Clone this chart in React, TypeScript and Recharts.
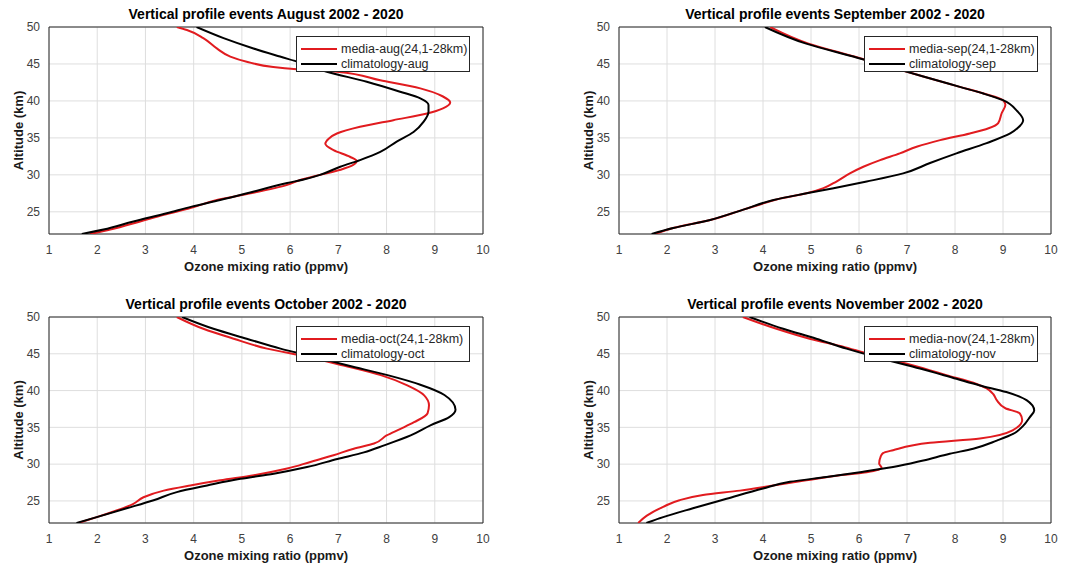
import React from 'react'
import {
  ScatterChart,
  Scatter,
  XAxis,
  YAxis,
  CartesianGrid,
  ReferenceLine,
  Legend,
  Label,
} from 'recharts'

// [ozone ppmv, altitude km], read from top (50 km) down to 22 km
type Pt = [number, number]

const OZONE_TICKS = [1, 2, 3, 4, 5, 6, 7, 8, 9, 10]
const ALT_TICKS = [25, 30, 35, 40, 45, 50]

const augMedia: Pt[] = [
  [3.65, 50], [3.86, 49.6], [4.2, 48.5], [4.48, 47.1], [4.76, 46], [5.1, 45.3], [5.65, 44.6],
  [6.14, 44.3], [6.97, 43.95], [7.87, 42.8], [8.7, 41.7], [9.17, 40.6], [9.32, 39.8], [9.17, 39.0],
  [8.84, 38.3], [8.14, 37.4], [7.45, 36.5], [6.97, 35.6], [6.8, 34.9], [6.73, 34.2], [6.9, 33.35],
  [7.24, 32.45], [7.38, 31.87], [7.3, 31.3], [7.05, 30.7], [6.62, 30.0], [6.21, 29.3], [5.94, 28.65],
  [5.18, 27.5], [4.48, 26.6], [3.93, 25.5], [3.38, 24.6], [2.89, 23.7], [2.27, 22.6], [1.85, 22],
]
const augClim: Pt[] = [
  [4.06, 50], [4.62, 48.5], [5.24, 47.1], [5.79, 46], [6.2, 45.2], [6.76, 43.95], [7.59, 42.6],
  [8.28, 41.25], [8.7, 40.35], [8.87, 39.45], [8.87, 38.55], [8.77, 37.2], [8.56, 35.8], [8.21, 34.5],
  [7.87, 33.1], [7.45, 32], [7.04, 31.1], [6.62, 30.0], [6.3, 29.4], [5.94, 28.9], [5.25, 27.75],
  [4.55, 26.6], [3.96, 25.7], [3.44, 24.8], [2.75, 23.7], [2.13, 22.6], [1.68, 22],
]

const sepMedia: Pt[] = [
  [4.15, 50], [4.95, 47.75], [5.9, 46], [6.65, 44.6], [7.34, 43.3], [8.1, 41.9], [8.6, 41],
  [9.0, 40.1], [9.05, 39.5], [8.97, 38.3], [8.9, 37], [8.7, 36.3], [8.31, 35.6], [7.69, 34.7],
  [7.2, 33.8], [6.85, 32.9], [6.44, 32], [6.09, 31.1], [5.81, 30.2], [5.53, 29.1], [5.26, 28.2],
  [4.91, 27.5], [4.3, 26.7], [3.94, 26], [3.59, 25.3], [2.9, 23.9], [2.13, 22.8], [1.75, 22],
]
const sepClim: Pt[] = [
  [4.04, 50], [4.9, 47.75], [5.88, 46], [6.65, 44.6], [7.34, 43.3], [8.1, 41.9], [8.59, 41],
  [9.0, 40.1], [9.3, 38.6], [9.42, 37.4], [9.3, 36.3], [9.15, 35.6], [8.66, 34.3], [8.03, 32.9],
  [7.48, 31.6], [6.92, 30.2], [6.16, 29.1], [5.47, 28.2], [4.91, 27.5], [4.22, 26.6], [3.59, 25.3],
  [2.9, 23.9], [2.13, 22.8], [1.68, 22],
]

const octMedia: Pt[] = [
  [3.65, 50], [4.2, 48.4], [4.83, 47.05], [5.52, 45.7], [6.35, 44.6], [7.11, 43.4], [7.88, 42.1],
  [8.43, 40.7], [8.78, 39.35], [8.88, 38], [8.85, 36.9], [8.57, 35.7], [8.29, 34.8], [8.0, 33.9],
  [7.74, 32.8], [7.32, 32.1], [6.9, 31.2], [6.42, 30.3], [5.94, 29.4], [5.25, 28.5], [4.55, 27.8],
  [3.93, 27.1], [3.38, 26.4], [2.96, 25.5], [2.75, 24.6], [2.4, 23.7], [1.99, 22.8], [1.61, 22],
]
const octClim: Pt[] = [
  [3.76, 50], [4.41, 48.4], [5.1, 47.05], [5.8, 45.7], [6.49, 44.6], [7.2, 43.4], [8.02, 42.1],
  [8.7, 40.8], [9.2, 39.4], [9.43, 37.4], [9.3, 36.4], [8.92, 35.3], [8.5, 33.9], [7.95, 32.55],
  [7.53, 31.6], [6.98, 30.7], [6.35, 29.6], [5.66, 28.7], [4.97, 28], [4.28, 27.1], [3.65, 26.2],
  [3.17, 25.1], [2.61, 24], [1.99, 22.8], [1.57, 22],
]

const novMedia: Pt[] = [
  [3.58, 50], [4.28, 48.4], [4.97, 47.05], [5.7, 45.9], [6.3, 44.8], [7.13, 43.4], [7.82, 42.1],
  [8.45, 40.9], [8.66, 40.3], [8.8, 39.5], [8.87, 38.7], [9.05, 37.6], [9.35, 36.9], [9.4, 36],
  [9.2, 34.6], [8.52, 33.5], [7.48, 32.9], [6.71, 31.9], [6.5, 31.5], [6.45, 31], [6.42, 30.1],
  [6.47, 29.5], [6.16, 28.9], [5.6, 28.5], [4.9, 27.8], [4.21, 27.1], [3.52, 26.4], [2.75, 25.8],
  [2.26, 25.1], [1.92, 24.2], [1.58, 23.0], [1.4, 22],
]
const novClim: Pt[] = [
  [3.72, 50], [4.42, 48.4], [5.11, 47.05], [5.74, 45.7], [6.5, 44.3], [7.27, 43], [8.03, 41.6],
  [8.52, 40.7], [9.07, 39.8], [9.49, 38.7], [9.65, 37.3], [9.56, 36.4], [9.42, 35.2], [9.21, 34.1],
  [8.87, 33.2], [8.38, 32.1], [7.89, 31.4], [7.34, 30.5], [6.71, 29.6], [6.02, 28.9], [5.32, 28.25],
  [4.56, 27.6], [4.0, 26.7], [3.24, 25.3], [2.54, 24], [1.92, 22.8], [1.57, 22],
]

const RED = '#e11b1f'
const BLACK = '#000000'
const FONT = '"Liberation Sans", Arial, Helvetica, sans-serif'

const toRows = (pts: Pt[]) => pts.map(([x, y]) => ({ x, y }))

function LegendBox({ payload }: any) {
  // media first, climatology second, as in the original figure
  const items = [...(payload ?? [])].sort(
    (a: any, b: any) => (String(a.value).startsWith('media') ? 0 : 1) - (String(b.value).startsWith('media') ? 0 : 1),
  )
  return (
    <div
      style={{
        width: 174,
        height: 36,
        border: '1px solid #262626',
        background: '#fff',
        paddingTop: 4,
        boxSizing: 'border-box',
        fontFamily: FONT,
        fontSize: 12.5,
        color: '#262626',
      }}
    >
      {items.map((p: any) => (
        <div key={p.value} style={{ display: 'flex', alignItems: 'center', height: 15 }}>
          <span style={{ width: 36, height: 2, background: p.color, margin: '0 4px 0 4px' }} />
          <span style={{ whiteSpace: 'nowrap' }}>{p.value}</span>
        </div>
      ))}
    </div>
  )
}

interface PanelProps {
  title: string
  code: string
  media: Pt[]
  clim: Pt[]
  left: number
  top: number
  width: number
  height: number
  margin: { top: number; right: number; bottom: number; left: number }
}

function Panel({ title, code, media, clim, left, top, width, height, margin }: PanelProps) {
  const plotLeft = margin.left + 49
  const plotWidth = width - margin.right - plotLeft
  const tickStyle = { fill: '#404040', fontSize: 12, fontFamily: FONT }
  const labelStyle = { fill: '#1a1a1a', fontSize: 13, fontWeight: 700, fontFamily: FONT }

  return (
    <div style={{ position: 'absolute', left, top, width, height }}>
      <div
        style={{
          position: 'absolute',
          left: plotLeft,
          width: plotWidth,
          top: margin.top - 21,
          textAlign: 'center',
          fontFamily: FONT,
          fontWeight: 700,
          fontSize: 14,
          lineHeight: '16px',
          color: '#000',
          whiteSpace: 'nowrap',
        }}
      >
        {title}
      </div>
      <ScatterChart width={width} height={height} margin={margin}>
        <CartesianGrid stroke="#dedede" />
        <XAxis
          type="number"
          dataKey="x"
          domain={[1, 10]}
          ticks={OZONE_TICKS}
          allowDataOverflow
          height={40}
          tickLine={false}
          tickMargin={5}
          axisLine={{ stroke: '#262626' }}
          tick={tickStyle}
        >
          <Label value="Ozone mixing ratio (ppmv)" position="insideBottom" offset={3} style={labelStyle} />
        </XAxis>
        <YAxis
          type="number"
          dataKey="y"
          domain={[22, 50]}
          ticks={ALT_TICKS}
          allowDataOverflow
          width={49}
          tickLine={false}
          tickMargin={3}
          axisLine={{ stroke: '#262626' }}
          tick={tickStyle}
        >
          <Label
            value="Altitude (km)"
            angle={-90}
            position="insideLeft"
            offset={18}
            style={{ ...labelStyle, textAnchor: 'middle' }}
          />
        </YAxis>
        <ReferenceLine y={50} stroke="#262626" />
        <ReferenceLine x={10} stroke="#262626" />
        <Scatter
          name={`media-${code}(24,1-28km)`}
          data={toRows(media)}
          fill={RED}
          line={{ stroke: RED, strokeWidth: 2 }}
          lineType="joint"
          lineJointType="monotoneY"
          shape={() => <g />}
          legendType="line"
          isAnimationActive={false}
        />
        <Scatter
          name={`climatology-${code}`}
          data={toRows(clim)}
          fill={BLACK}
          line={{ stroke: BLACK, strokeWidth: 2 }}
          lineType="joint"
          lineJointType="monotoneY"
          shape={() => <g />}
          legendType="line"
          isAnimationActive={false}
        />
        <Legend
          layout="vertical"
          align="center"
          verticalAlign="middle"
          content={<LegendBox />}
          wrapperStyle={{ left: plotLeft + plotWidth - 187, top: margin.top + 9, width: 'auto', height: 'auto' }}
        />
      </ScatterChart>
    </div>
  )
}

export default function App() {
  const topL = { top: 27, right: 57, bottom: 11, left: 0 }
  const topR = { top: 27, right: 14, bottom: 11, left: 30 }
  const botL = { top: 32, right: 57, bottom: 4, left: 0 }
  const botR = { top: 32, right: 14, bottom: 4, left: 30 }
  return (
    <div style={{ position: 'absolute', left: 0, top: 0, width: 1065, height: 567, background: '#fff', overflow: 'hidden' }}>
      <Panel title="Vertical profile events August 2002 - 2020" code="aug" media={augMedia} clim={augClim}
        left={0} top={0} width={540} height={285} margin={topL} />
      <Panel title="Vertical profile events September 2002 - 2020" code="sep" media={sepMedia} clim={sepClim}
        left={540} top={0} width={525} height={285} margin={topR} />
      <Panel title="Vertical profile events October 2002 - 2020" code="oct" media={octMedia} clim={octClim}
        left={0} top={285} width={540} height={282} margin={botL} />
      <Panel title="Vertical profile events November 2002 - 2020" code="nov" media={novMedia} clim={novClim}
        left={540} top={285} width={525} height={282} margin={botR} />
    </div>
  )
}
